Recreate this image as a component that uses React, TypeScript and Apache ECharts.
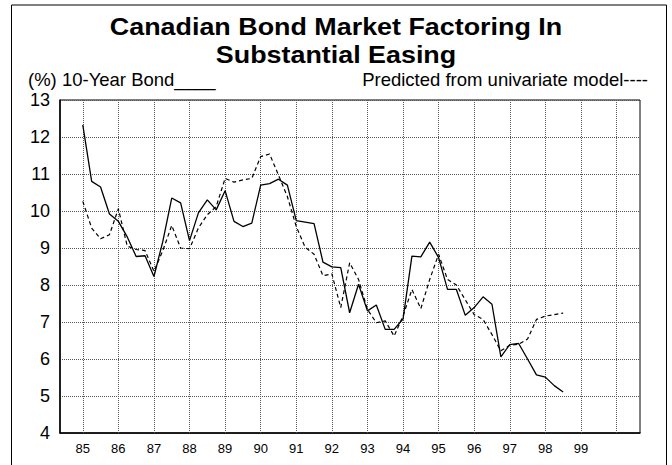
import React, { useEffect, useRef } from "react";
import * as echarts from "echarts";

const quarters: number[] = [];
for (let i = 0; i <= 54; i++) quarters.push(85 + i * 0.25);

const bondYield = [
  12.33, 10.8, 10.65, 9.92, 9.72, 9.3, 8.77, 8.79,
  8.23, 9.18, 10.35, 10.22, 9.2, 9.95, 10.3, 10.03,
  10.55, 9.72, 9.58, 9.67, 10.7, 10.74, 10.86, 10.7,
  9.74, 9.7, 9.66, 8.62, 8.49, 8.47, 7.25, 8.02,
  7.3, 7.46, 6.8, 6.8, 7.08, 8.78, 8.76, 9.16,
  8.74, 7.88, 7.88, 7.18, 7.39, 7.68, 7.48, 6.06,
  6.39, 6.42, 6.0, 5.57, 5.51, 5.28, 5.11,
];

const predicted = [
  10.26, 9.54, 9.25, 9.36, 10.06, 9.05, 8.96, 8.93,
  8.37, 8.93, 9.61, 9.0, 8.98, 9.54, 9.9, 10.12,
  10.88, 10.78, 10.84, 10.88, 11.47, 11.54, 10.97, 10.39,
  9.58, 9.02, 8.83, 8.25, 8.3, 7.39, 8.6, 8.15,
  7.34, 6.98, 7.03, 6.62, 7.16, 7.88, 7.36, 8.15,
  8.83, 8.15, 8.0, 7.6, 7.2, 7.07, 6.66, 6.22,
  6.37, 6.4, 6.54, 7.07, 7.16, 7.2, 7.24,
];

const titleLines = ["Canadian Bond Market Factoring In", "Substantial Easing"];
const xTickLabels = [85, 86, 87, 88, 89, 90, 91, 92, 93, 94, 95, 96, 97, 98, 99];
const xGridYears = [85, 86, 87, 88, 89, 90, 91, 92, 93, 94, 95, 96, 97, 98, 99, 100];

const FONT = "Liberation Sans, Arial, sans-serif";

export default function App() {
  const ref = useRef<HTMLDivElement>(null);
  useEffect(() => {
    if (!ref.current) return;
    const chart = echarts.init(ref.current, null, { renderer: "svg" });
    const option = {
      animation: false,
      backgroundColor: "#fff",
      graphic: [
        {
          type: "rect",
          shape: { x: 11.5, y: 5, width: 655, height: 480 },
          style: { fill: "none", stroke: "#000", lineWidth: 1 },
          silent: true,
        },
        ...titleLines.map((t, i) => ({
          type: "text",
          x: 336,
          y: 26.8 + i * 27.7,
          scaleX: 1.12,
          style: {
            text: t,
            fontSize: 24,
            fontWeight: "bold",
            fontFamily: FONT,
            fill: "#000",
            textAlign: "center",
            textVerticalAlign: "middle",
          },
        })),
        {
          type: "text",
          x: 28,
          y: 79,
          style: {
            text: "(%) 10-Year Bond____",
            fontSize: 18.5,
            fontFamily: FONT,
            fill: "#000",
            textAlign: "left",
            textVerticalAlign: "middle",
          },
        },
        {
          type: "text",
          x: 648,
          y: 79,
          style: {
            text: "Predicted from univariate model----",
            fontSize: 18.5,
            fontFamily: FONT,
            fill: "#000",
            textAlign: "right",
            textVerticalAlign: "middle",
          },
        },
      ],
      grid: {
        left: 60,
        top: 100,
        width: 580,
        height: 333,
        show: true,
        borderColor: "#000",
        borderWidth: 1,
        backgroundColor: "#fff",
      },
      xAxis: {
        type: "value",
        min: 84.36,
        max: 100.66,
        axisLine: { show: true, lineStyle: { color: "#000", width: 1.5 } },
        axisTick: { show: false },
        splitLine: { show: false },
        axisLabel: {
          customValues: xTickLabels,
          formatter: (v: number) => String(v),
          fontSize: 13,
          fontFamily: FONT,
          color: "#000",
          margin: 9,
        },
      },
      yAxis: {
        type: "value",
        min: 4,
        max: 13,
        interval: 1,
        axisLine: { show: true, lineStyle: { color: "#000", width: 1.5 } },
        axisTick: { show: false },
        splitLine: { show: true, lineStyle: { type: "dotted", color: "#555", width: 1 } },
        axisLabel: {
          fontSize: 18,
          fontFamily: FONT,
          color: "#000",
          margin: 10,
        },
      },
      series: [
        {
          name: "10-Year Bond",
          type: "line",
          data: quarters.map((q, i) => [q, bondYield[i]]),
          showSymbol: false,
          symbol: "none",
          lineStyle: { color: "#000", width: 1.3, type: "solid" },
          silent: true,
          z: 3,
          markLine: {
            silent: true,
            symbol: ["none", "none"],
            label: { show: false },
            lineStyle: { type: "dotted", color: "#555", width: 1 },
            emphasis: { disabled: true },
            data: xGridYears.map((y) => ({ xAxis: y })),
            z: 1,
          },
        },
        {
          name: "Predicted",
          type: "line",
          data: quarters.map((q, i) => [q, predicted[i]]),
          showSymbol: false,
          symbol: "none",
          lineStyle: { color: "#000", width: 1.2, type: [4, 3] },
          silent: true,
          z: 3,
        },
      ],
    };
    chart.setOption(option as any);
    return () => chart.dispose();
  }, []);
  return (
    <div
      ref={ref}
      style={{ position: "fixed", left: 0, top: 0, width: 672, height: 465 }}
    />
  );
}
